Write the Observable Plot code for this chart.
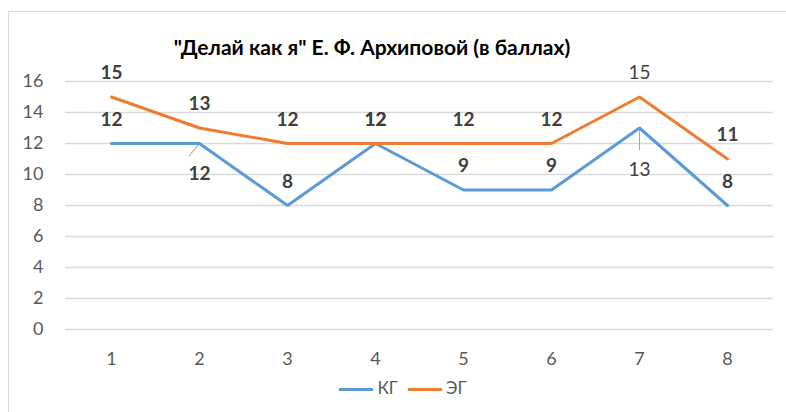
<!DOCTYPE html>
<html><head><meta charset="utf-8">
<script src="https://cdn.jsdelivr.net/npm/d3@7"></script>
<script src="https://cdn.jsdelivr.net/npm/@observablehq/plot@0.6"></script>
<style>
body{margin:0;background:#fff;overflow:hidden;}
#wrap{position:relative;width:786px;height:412px;font-family:Lato,"Open Sans",sans-serif;}
#frame{position:absolute;left:8px;top:11px;width:800px;height:420px;border:1px solid #d9d9d9;box-sizing:border-box;}
#title{position:absolute;left:0;width:744px;top:34px;text-align:center;font-weight:bold;font-size:21px;color:#000;}
#legend{position:absolute;left:0;width:806px;top:377px;text-align:center;font-size:17px;color:#595959;}
#legend span.sw{display:inline-block;width:34px;height:3px;vertical-align:middle;margin-right:4px;}
#legend span.it{margin:0 5px;}
#chart{position:absolute;left:0;top:0;}
</style></head>
<body>
<div id="wrap">
<div id="frame"></div>
<div id="chart"></div>
<div id="title">"Делай как я" Е. Ф. Архиповой (в баллах)</div>
<div id="legend"></div>
</div>
<script>
const categories = [1, 2, 3, 4, 5, 6, 7, 8];
const kg = [12, 12, 8, 12, 9, 9, 13, 8];
const eg = [15, 13, 12, 12, 12, 12, 15, 11];
const seriesNames = ["КГ", "ЭГ"];
const colors = ["#5B9BD5", "#ED7D31"];
const yTicks = [0, 2, 4, 6, 8, 10, 12, 14, 16];
// label placement for КГ labels (Excel auto placement)
const kgPlace = ["above", "below", "above", "above", "above", "above", "below2", "above"];
const egLight = [false, false, false, false, false, false, true, false];

const rows = [];
categories.forEach((c, i) => {
  rows.push({x: c, y: kg[i], s: seriesNames[0], place: kgPlace[i], light: false});
  rows.push({x: c, y: eg[i], s: seriesNames[1], place: "above", light: egLight[i]});
});
const labFill = "#404040";
const lf = {fontSize: 19, fill: labFill, textAnchor: "middle"};
const leaderShape = {draw(ctx, l) { ctx.moveTo(0, 0); ctx.lineTo(0, -l); }};

const plot = Plot.plot({
  width: 786, height: 412,
  marginLeft: 67, marginRight: 15, marginTop: 81, marginBottom: 83,
  style: {fontFamily: "Lato, 'Open Sans', sans-serif", fontSize: "18px", color: "#595959", background: "transparent"},
  x: {type: "point", domain: categories, padding: 0.5, label: null},
  y: {domain: [0, 16], ticks: yTicks, label: null},
  color: {domain: seriesNames, range: colors},
  marks: [
    Plot.gridY(yTicks, {stroke: "#d9d9d9", strokeOpacity: 1, strokeWidth: 1.3, insetLeft: -2, insetRight: -2}),
    Plot.axisY(yTicks, {tickSize: 0, tickPadding: 24, fontSize: 18, label: null}),
    Plot.axisX(categories, {tickSize: 0, tickPadding: 23, fontSize: 18, label: null}),
    Plot.vector(rows.filter(d => d.s === "КГ" && d.place === "below"), {x: "x", y: "y", length: 16, rotate: 220, anchor: "start", shape: leaderShape, stroke: "#a6a6a6", strokeWidth: 1}),
    Plot.vector(rows.filter(d => d.s === "КГ" && d.place === "below2"), {x: "x", y: "y", length: 22, rotate: 180, anchor: "start", shape: leaderShape, stroke: "#a6a6a6", strokeWidth: 1}),
    Plot.line(rows, {x: "x", y: "y", z: "s", stroke: "s", strokeWidth: 3, strokeLinejoin: "miter"}),
    Plot.text(rows.filter(d => d.place === "above" && !d.light), {x: "x", y: "y", text: d => String(d.y), dy: -24, fontWeight: "bold", ...lf}),
    Plot.text(rows.filter(d => d.place === "above" && d.light), {x: "x", y: "y", text: d => String(d.y), dy: -24, fontWeight: "normal", ...lf}),
    Plot.text(rows.filter(d => d.place === "below"), {x: "x", y: "y", text: d => String(d.y), dy: 30, fontWeight: "bold", ...lf}),
    Plot.text(rows.filter(d => d.place === "below2"), {x: "x", y: "y", text: d => String(d.y), dy: 42, fontWeight: "normal", ...lf})
  ]
});
document.getElementById("chart").appendChild(plot);

const leg = document.getElementById("legend");
seriesNames.forEach((n, i) => {
  const it = document.createElement("span");
  it.className = "it";
  it.innerHTML = `<span class="sw" style="background:${colors[i]}"></span>${n}`;
  leg.appendChild(it);
});
</script>
</body></html>
